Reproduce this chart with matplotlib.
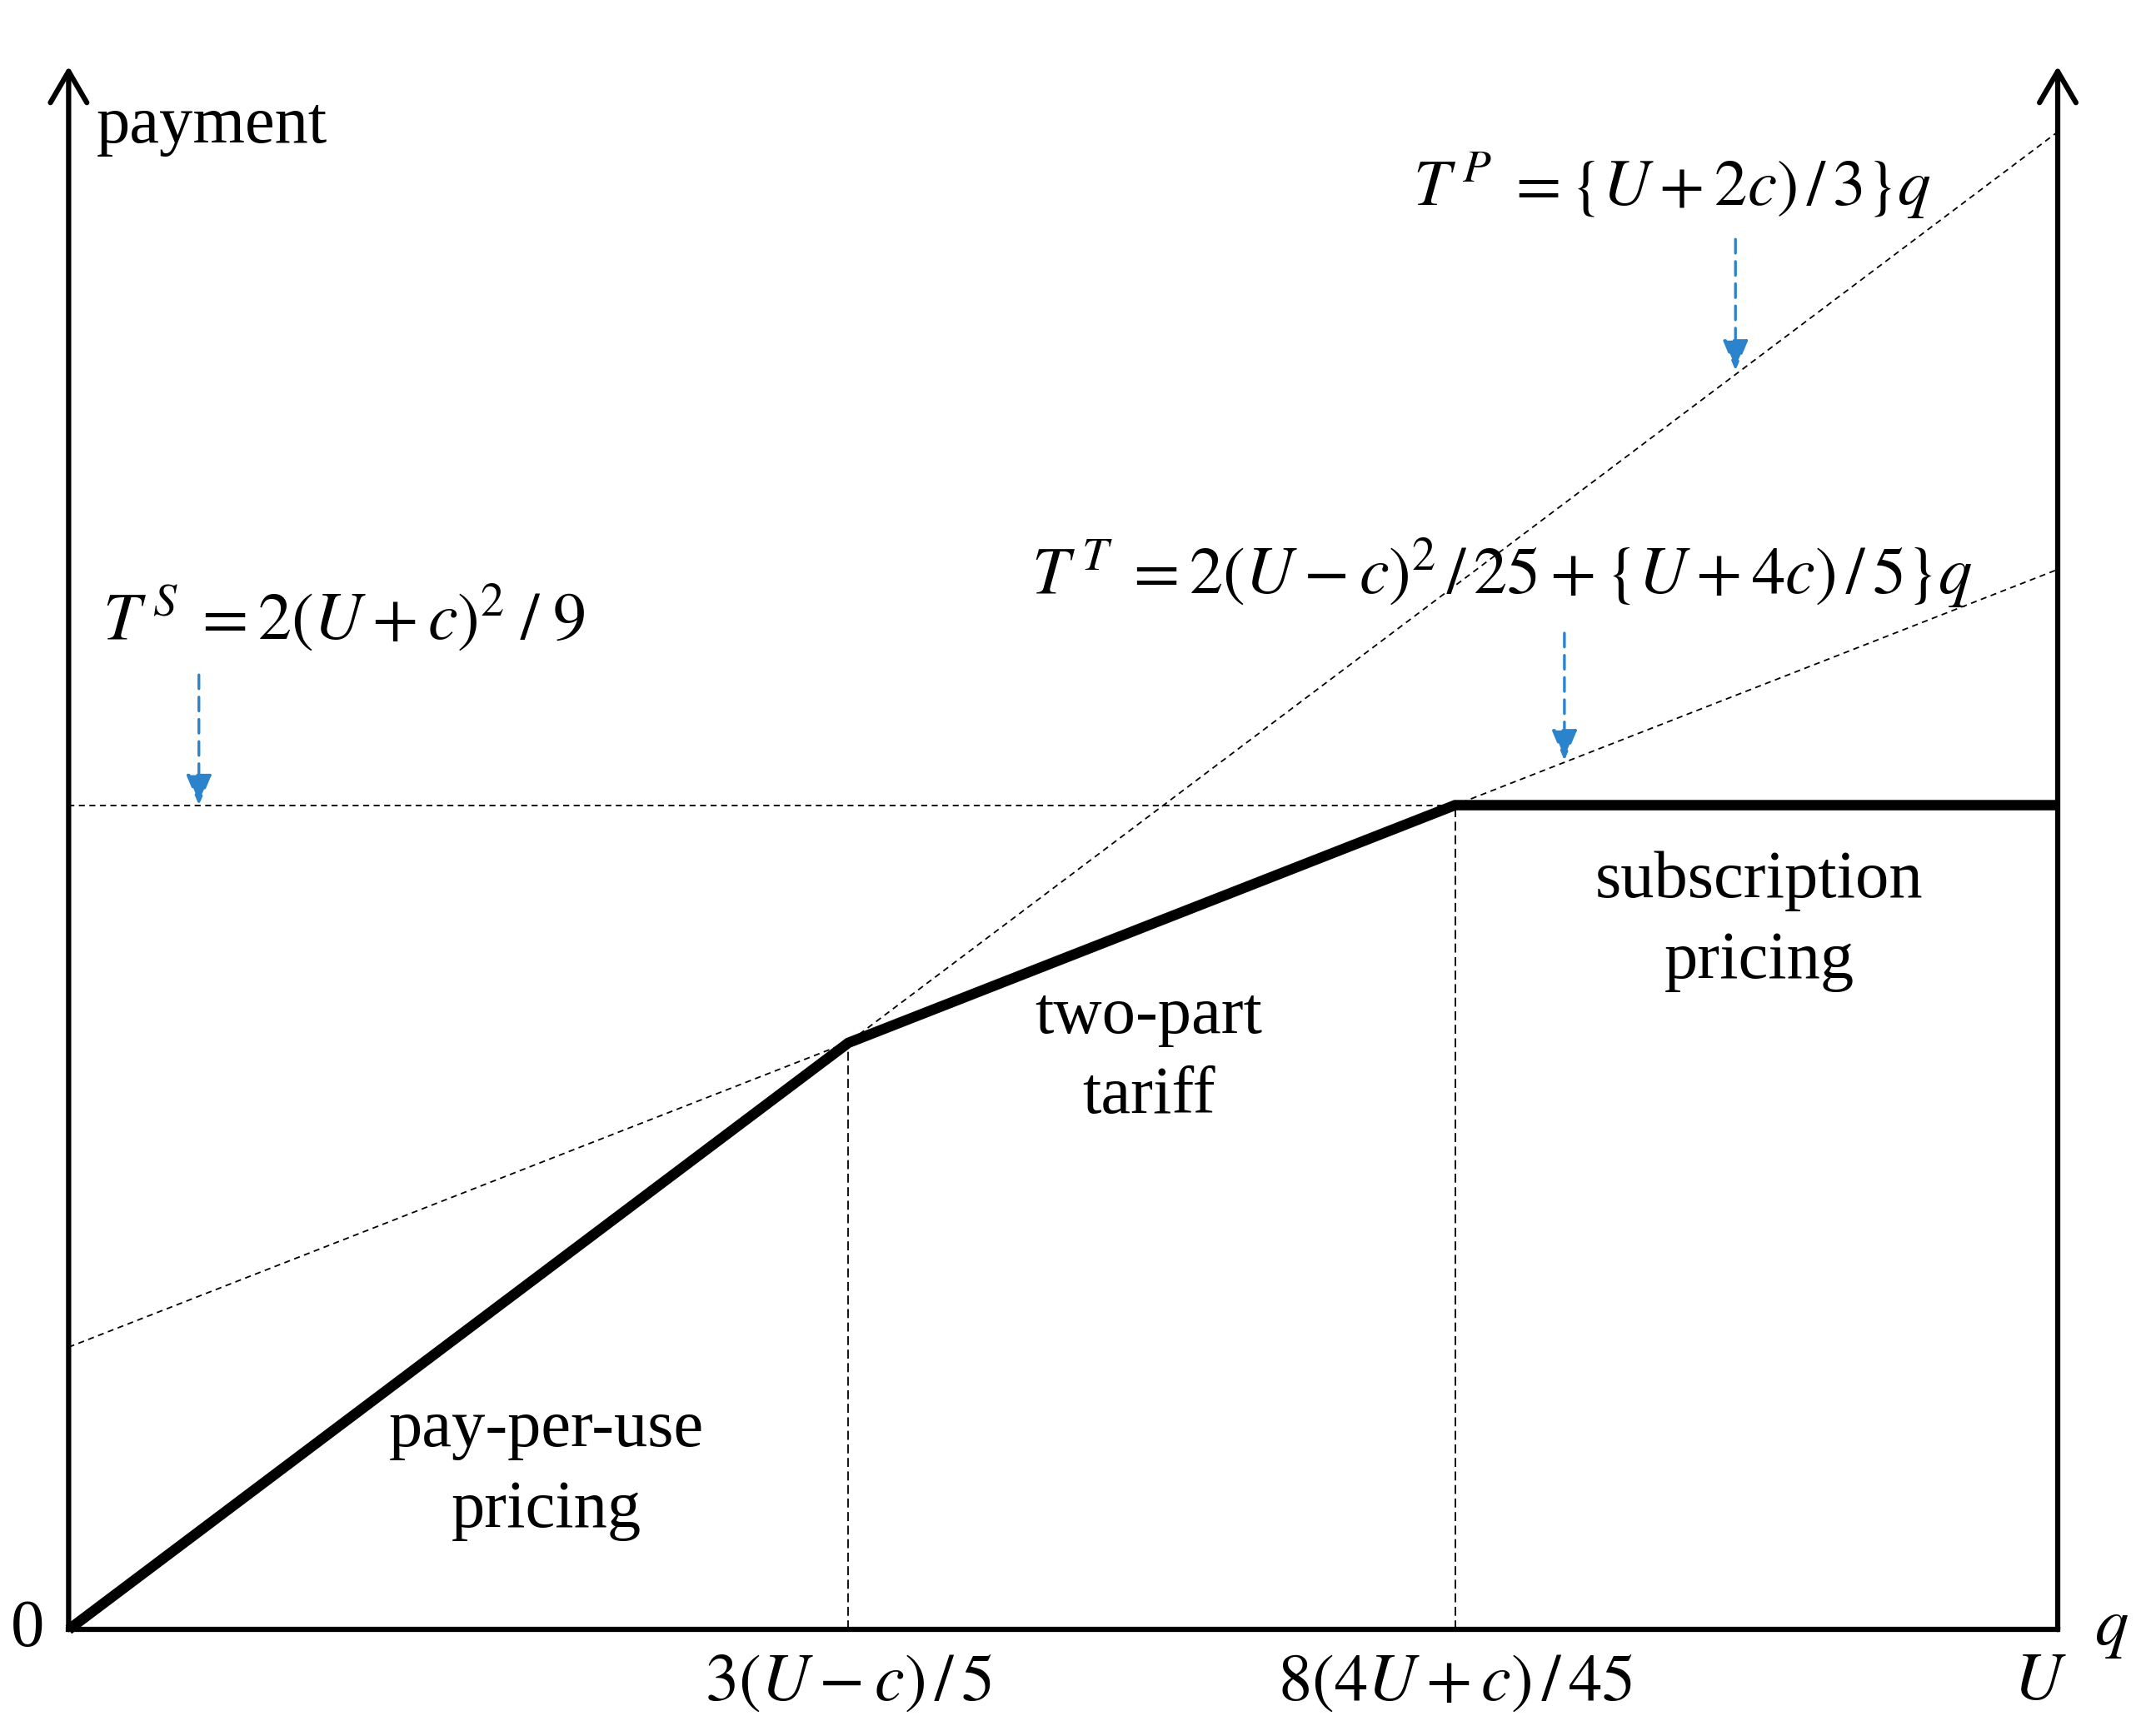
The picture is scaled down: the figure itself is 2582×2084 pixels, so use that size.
import matplotlib
matplotlib.use("Agg")
import matplotlib.pyplot as plt

plt.rcParams['font.family'] = ['Liberation Serif', 'DejaVu Serif']
plt.rcParams['mathtext.fontset'] = 'stix'

# quantities (q in units of U, payment in same scale)
q_path = [0.0, 0.392, 0.697, 1.0]          # 0, 3(U-c)/5, 8(4U+c)/45, U
pay_path = [0.0, 0.295, 0.4145, 0.4145]    # optimal payment (thick line)
tp_q = [0.0, 1.0]
tp_pay = [0.0, 0.753]                      # T^P, pay-per-use
tt_q = [0.0, 1.0]
tt_pay = [0.142, 0.533]                    # T^T, two-part tariff
ts_pay = 0.4145                            # T^S, subscription
y_top = 0.786

x_ticks = [0.392, 0.697, 1.0]
x_ticklabels = [r'$3(U-c)\,/\,5$', r'$8(4U+c)\,/\,45$', r'$U$']

fig = plt.figure(figsize=(25.82, 20.84), dpi=100)
ax = fig.add_axes([0, 0, 1, 1])
ax.set_xlim(-0.0345, 1.0469)
ax.set_ylim(-0.0535, 0.8193)
ax.axis('off')

thin = dict(color='black', lw=1.3, ls=(0, (4, 3)))

# reference lines
ax.plot(tp_q, tp_pay, **thin)
ax.plot(tt_q, tt_pay, **thin)
ax.plot([0, q_path[2]], [ts_pay, ts_pay], **thin)
ax.plot([q_path[1], q_path[1]], [0, pay_path[1]], color='black', lw=1.3, ls=(0, (6, 3)))
ax.plot([q_path[2], q_path[2]], [0, pay_path[2]], color='black', lw=1.3, ls=(0, (6, 3)))

# optimal payment schedule
ax.plot(q_path, pay_path, color='black', lw=9, solid_joinstyle='miter', solid_capstyle='butt')

# axes
ax.plot([0, 1], [0, 0], color='black', lw=4.5, solid_capstyle='projecting')
for xa in [0, 1]:
    ax.annotate('', xy=(xa, y_top), xytext=(xa, 0),
                arrowprops=dict(arrowstyle='->,head_length=0.6,head_width=0.35',
                                lw=4.5, color='black', shrinkA=0, shrinkB=0,
                                mutation_scale=45))

# blue pointer arrows
blue = '#2b83cc'
pointers = [(0.0655, 0.480, ts_pay), (0.838, 0.699, 0.633), (0.752, 0.501, 0.437)]
for xp, y0, y1 in pointers:
    ax.annotate('', xy=(xp, y1), xytext=(xp, y0),
                arrowprops=dict(arrowstyle='-|>,head_length=0.6,head_width=0.25',
                                lw=2.4, ls=(0, (5, 3)), color=blue,
                                shrinkA=0, shrinkB=0, mutation_scale=38))

fs = 58
ax.text(0.014, 0.756, 'payment', fontsize=fs, va='center', ha='left')
ax.text(0.676, 0.726, r'$T^{\,P}\;=\{U+2c)\,/\,3\}q$', fontsize=fs - 1, va='center', ha='left')
ax.text(0.484, 0.531, r'$T^{\,T}\;=2(U-c)^{2}\,/\,25+\{U+4c)\,/\,5\}q$', fontsize=fs, va='center', ha='left')
ax.text(0.017, 0.509, r'$T^{\,S}\;=2(U+c)^{2}\;/\;9$', fontsize=fs, va='center', ha='left')

ax.text(0.24, 0.080, 'pay-per-use\npricing', fontsize=fs, ha='center', va='center', linespacing=1.42)
ax.text(0.543, 0.288, 'two-part\ntariff', fontsize=fs, ha='center', va='center', linespacing=1.42)
ax.text(0.850, 0.356, 'subscription\npricing', fontsize=fs, ha='center', va='center', linespacing=1.42)

for xt, lab in zip(x_ticks, x_ticklabels):
    xx = xt - 0.009 if lab == r'$U$' else xt
    ax.text(xx, -0.027, lab, fontsize=fs, ha='center', va='center')
ax.text(-0.0207, 0.0, '0', fontsize=fs, ha='center', va='center')
ax.text(1.027, 0.0, r'$q$', fontsize=fs, ha='center', va='center')

fig.savefig('out.png', dpi=100)
